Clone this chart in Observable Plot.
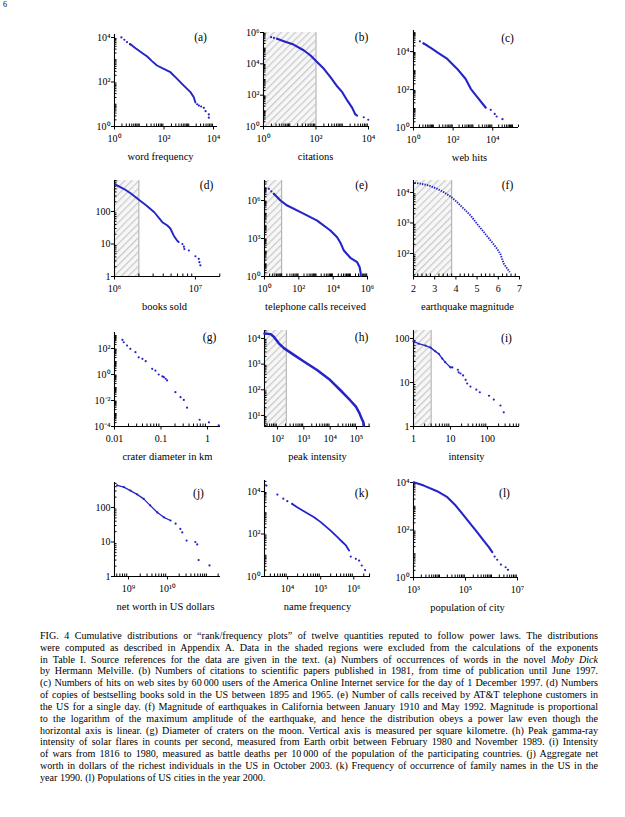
<!DOCTYPE html>
<html><head><meta charset="utf-8">
<script src="https://cdn.jsdelivr.net/npm/d3@7"></script>
<script src="https://cdn.jsdelivr.net/npm/@observablehq/plot@0.6"></script>
<style>
body{margin:0;background:#fff;}
#page{position:relative;width:625px;height:817px;overflow:hidden;font-family:"Liberation Serif",serif;color:#000;background:#fff;}
#pgnum{position:absolute;left:3px;top:0px;font-size:8px;}
#caption{position:absolute;left:40px;top:630px;width:558px;font-size:10.1px;line-height:11.83px;}
#caption div{position:absolute;left:0;white-space:nowrap;}
</style></head><body>
<div id="page"><div id="pgnum">6</div><div id="caption"></div></div>
<script>
// ---------- data ----------
// (a) word frequency (Moby Dick)
const aLine = [[4.2,5000],[5.1,4400],[7.1,3300],[9.5,2600],[14,1900],[21,1400],[32,890],[52,550],[98,390],[182,275],[340,138],[630,69],[1170,35],[1580,21],[1860,12]];
const aDots = [[1.9,10000],[2.5,7900],[3.2,6200],[4.2,5000],[2200,10],[2570,8.7],[3160,7.9],[4070,6.9],[4790,4.9],[6460,3.5],[6460,2.5]];
// (b) citations
const bLine = [[3.3,4.0e5],[5.9,2.8e5],[14,1.7e5],[35,7.1e4],[62,3.4e4],[112,1.26e4],[200,4800],[355,1400],[650,355],[1000,155],[1550,46],[2400,15.5],[3160,5.9],[3700,5]];
const bDots = [[1.95,5.0e5],[2.5,4.5e5],[3.3,4.0e5],[6600,3.9],[9800,2.7]];
// (c) web hits
const cLine = [[3.2,2.7e4],[4.9,2.1e4],[8.9,1.4e4],[16,9100],[51,4100],[162,1230],[430,360],[780,110],[1660,40],[3630,14.5],[4470,11]];
const cDots = [[2.1,3.5e4],[3.2,2.7e4],[7900,8.5],[12600,5.2],[15800,3.8],[31000,2.75]];
// (d) books sold
const dLine = [[1.03e6,676],[1.3e6,500],[1.58e6,363],[2.0e6,229],[2.5e6,151],[3.1e6,95],[3.9e6,47],[4.5e6,37],[4.9e6,30],[5.4e6,18],[5.9e6,13],[6.2e6,11.5]];
const dDots = [[6.9e6,10],[7.2e6,8.3],[7.3e6,7],[8.3e6,6.3],[1.0e7,4.2],[1.1e7,3.5],[1.12e7,2.75],[1.15e7,2.2]];
// (e) telephone calls received
const eLine = [[3.5,3.4e6],[8.5,1.0e6],[21,4.0e5],[126,1.2e5],[1170,2.6e4],[6900,4300],[1.7e4,1260],[2.8e4,400],[4.2e4,112],[1.0e5,30],[2.5e5,13.5],[3.5e5,5.4],[4.0e5,2],[4.0e5,1.1]];
const eDots = [[1.8,8.3e6],[2.5,5.2e6],[3.5,3.4e6]];
// (f) earthquake magnitude
const fLine = [[2.05,2.04e4],[2.33,1.95e4],[2.72,1.70e4],[3.12,1.32e4],[3.43,1.02e4],[3.78,7100],[4.06,4800],[4.37,2950],[4.69,1780],[5.0,930],[5.32,500],[5.63,270],[5.95,141],[6.1,95],[6.26,46],[6.54,24.5]];
// (g) crater diameter
const gDots = [[0.0148,468],[0.0158,302],[0.0186,170],[0.0219,95],[0.0282,52],[0.0331,21],[0.0398,16],[0.0468,10.5],[0.0646,2.75],[0.0759,2.0],[0.0891,1.0],[0.107,0.71],[0.115,0.62],[0.126,0.47],[0.135,0.35],[0.204,0.044],[0.263,0.018],[0.309,0.011],[0.363,0.0028],[0.676,3.3e-4],[1.07,2.1e-4],[1.74,1.2e-4]];
// (h) solar flare peak intensity
const hLine = [[32,1.55e4],[55,1.48e4],[72,1.17e4],[112,6500],[174,4200],[417,2300],[1000,1260],[3160,590],[1e4,240],[2.4e4,98],[5.6e4,40],[9.5e4,22],[1.29e5,12.3],[1.58e5,7.4],[1.82e5,5.5],[1.86e5,4]];
// (i) war intensity
const iLine = [[1.0,87],[1.38,76],[2.1,69],[2.9,62],[3.9,51],[4.8,45],[6.0,35],[7.2,29],[10,22],[11.2,22]];
const iDots = [[1.0,87],[1.38,76],[2.1,69],[2.9,62],[3.9,51],[4.8,45],[6.0,35],[7.2,29],[10,22],[11.2,22],[15.8,19.5],[16.6,17],[18.6,16],[21.9,14.5],[25.7,11.5],[28.2,9.5],[34.7,8.1],[50,6.9],[62,6.0],[110,5.0],[148,4.1],[224,3.0],[275,2.1]];
// (j) net worth
const jLine = [[5.1e8,436],[7.6e8,389],[1.12e9,309],[1.66e9,240],[2.45e9,178],[3.6e9,115],[5.5e9,72],[8.1e9,52],[1.2e10,42]];
const jDots = [[5.1e8,436],[7.6e8,389],[1.12e9,309],[1.66e9,240],[2.45e9,178],[3.6e9,115],[5.5e9,72],[8.1e9,52],[1.2e10,42],[1.62e10,34],[2.14e10,24],[2.4e10,19],[3.1e10,11],[5.2e10,10],[5.8e10,8.5],[6.3e10,3],[1.2e11,2.1]];
// (k) family name frequency
const kLine = [[1.38e4,2600],[1.95e4,1800],[3.1e4,1170],[6.3e4,620],[1.0e5,363],[2.0e5,145],[3.2e5,71],[4.6e5,41],[5.8e5,29],[7.2e5,16.6]];
const kDots = [[2290,1.9e4],[4900,7200],[7400,4600],[9800,3500],[1.38e4,2600],[8.1e5,8.7],[1.15e6,6.8],[1.45e6,5.6],[1.74e6,3.3],[2.2e6,2.0]];
// (l) city population
const lLine = [[1020,1.02e4],[2500,7400],[8100,4300],[2.0e4,2400],[4.2e4,1070],[8.5e4,410],[1.55e5,182],[2.8e5,81],[5.0e5,36],[7.9e5,19],[1.07e6,11.7]];
const lDots = [[1.32e6,7.6],[1.66e6,5.6],[2.3e6,3.5],[3.5e6,2.7],[4.3e6,2.1]];

// shaded (excluded) ranges
const shadeB = [1, 100], shadeD = [1e6, 2e6], shadeE = [1, 10], shadeF = [2, 3.8], shadeH = [32, 215], shadeI = [1, 3], shadeL = [1e3, 4e4];

// axis labels & letters
const letters = ["(a)","(b)","(c)","(d)","(e)","(f)","(g)","(h)","(i)","(j)","(k)","(l)"];
const xLabels = ["word frequency","citations","web hits","books sold","telephone calls received","earthquake magnitude","crater diameter in km","peak intensity","intensity","net worth in US dollars","name frequency","population of city"];

const captionLines = [
"FIG. 4 Cumulative distributions or “rank/frequency plots” of twelve quantities reputed to follow power laws. The distributions",
"were computed as described in Appendix A. Data in the shaded regions were excluded from the calculations of the exponents",
"in Table I. Source references for the data are given in the text. (a) Numbers of occurrences of words in the novel <i>Moby Dick</i>",
"by Hermann Melville. (b) Numbers of citations to scientific papers published in 1981, from time of publication until June 1997.",
"(c) Numbers of hits on web sites by 60&#8201;000 users of the America Online Internet service for the day of 1 December 1997. (d) Numbers",
"of copies of bestselling books sold in the US between 1895 and 1965. (e) Number of calls received by AT&amp;T telephone customers in",
"the US for a single day. (f) Magnitude of earthquakes in California between January 1910 and May 1992. Magnitude is proportional",
"to the logarithm of the maximum amplitude of the earthquake, and hence the distribution obeys a power law even though the",
"horizontal axis is linear. (g) Diameter of craters on the moon. Vertical axis is measured per square kilometre. (h) Peak gamma-ray",
"intensity of solar flares in counts per second, measured from Earth orbit between February 1980 and November 1989. (i) Intensity",
"of wars from 1816 to 1980, measured as battle deaths per 10&#8201;000 of the population of the participating countries. (j) Aggregate net",
"worth in dollars of the richest individuals in the US in October 2003. (k) Frequency of occurrence of family names in the US in the",
"year 1990. (l) Populations of US cities in the year 2000."
];

// ---------- formatting helpers ----------
const SUP = {"-":"⁻","0":"⁰","1":"¹","2":"²","3":"³","4":"⁴","5":"⁵","6":"⁶","7":"⁷","8":"⁸","9":"⁹"};
const pow10 = d => "10" + String(Math.round(Math.log10(d))).split("").map(c => SUP[c]).join("");
const plain = d => String(d);
function logMinors(domain, majors) {
  const [a, b] = domain, out = [];
  for (let e = Math.floor(Math.log10(a)); e <= Math.ceil(Math.log10(b)); e++) {
    for (let m = 1; m <= 9; m++) {
      const v = +(m * Math.pow(10, e)).toPrecision(6);
      if (v >= a * 0.9999 && v <= b * 1.0001 && !majors.some(t => Math.abs(t - v) / v < 1e-6)) out.push(v);
    }
  }
  return out;
}

// ---------- layout of the 12 panels (frame in page px) ----------
const panels = [
 {L:114,T:34,W:103,H:92, xd:[1,1.45e4], yd:[1,1.36e4], xt:[1,100,1e4], yt:[1,100,1e4], xf:pow10, yf:pow10, line:aLine, dots:aDots, lw:1.9, let:[200,37], lab:160},
 {L:263,T:32,W:105,H:94, xd:[1,1e4], yd:[1,1e6], xt:[1,100,1e4], yt:[1,100,1e4,1e6], xf:pow10, yf:pow10, line:bLine, dots:bDots, shade:shadeB, lw:2.1, let:[361,37], lab:315},
 {L:413,T:30,W:105,H:97, xd:[1,2e5], yd:[1,1.3e5], xt:[1,100,1e4], yt:[1,100,1e4], xf:pow10, yf:pow10, line:cLine, dots:cDots, lw:2.1, let:[507,38], lab:469},
 {L:114,T:180,W:106,H:96, xd:[1e6,2.04e7], yd:[1,900], xt:[1e6,1e7], yt:[1,10,100], xf:pow10, yf:plain, line:dLine, dots:dDots, shade:shadeD, lw:1.9, let:[206,185], lab:164},
 {L:264,T:180,W:103,H:96, xd:[1,1e6], yd:[1,3.8e7], xt:[1,100,1e4,1e6], yt:[1,1e3,1e6], xf:pow10, yf:pow10, line:eLine, dots:eDots, shade:shadeE, lw:2.1, let:[361,185], lab:315},
 {L:413,T:180,W:106,H:96, xd:[2,7], yd:[17.6,24700], xt:[2,3,4,5,6,7], yt:[100,1e3,1e4], xf:plain, yf:pow10, line:fLine, dash:true, shade:shadeF, lw:1.9, let:[507,185], lab:467, linear:true},
 {L:114,T:332,W:106,H:94, xd:[0.01,1.9], yd:[1e-4,1700], xt:[0.01,0.1,1], yt:[1e-4,1e-2,1,100], xf:plain, yf:pow10, dots:gDots, let:[209,337], lab:167},
 {L:264,T:330,W:106,H:96, xd:[32,3.4e5], yd:[3.7,2.05e4], xt:[100,1e3,1e4,1e5], yt:[10,100,1e3,1e4], xf:pow10, yf:pow10, line:hLine, shade:shadeH, lw:2.5, let:[361,337], lab:317},
 {L:413,T:330,W:106,H:96, xd:[1,733], yd:[1,152], xt:[1,10,100], yt:[1,10,100], xf:plain, yf:plain, line:iLine, dots:iDots, shade:shadeI, lw:1.3, let:[506,338], lab:466},
 {L:114,T:482,W:106,H:94, xd:[4.37e8,2.3e11], yd:[1,530], xt:[1e9,1e10], yt:[1,10,100], xf:pow10, yf:plain, line:jLine, dots:jDots, lw:1.3, let:[198,493], lab:165},
 {L:264,T:480,W:106,H:96, xd:[2000,3.2e6], yd:[1,3.3e4], xt:[1e4,1e5,1e6], yt:[1,100,1e4], xf:pow10, yf:pow10, line:kLine, dots:kDots, lw:1.8, let:[361,493], lab:317},
 {L:413,T:482,W:104,H:95, xd:[1e3,1e7], yd:[1,1e4], xt:[1e3,1e5,1e7], yt:[1,100,1e4], xf:pow10, yf:pow10, line:lLine, dots:lDots, lw:2.1, let:[504,493], lab:467}
];

const BLUE = "#2424c8";
const page = document.getElementById("page");
const mL = 36, mR = 14, mT = 10, mB = 44;
const X = d => d[0], Y = d => d[1];

panels.forEach((p, i) => {
  const id = "hatch" + i;
  const xMinor = p.linear ? d3.range(2, 7.0001, 0.2).filter(v => Math.abs(v - Math.round(v)) > 1e-6) : logMinors(p.xd, p.xt);
  const yMinor = logMinors(p.yd, p.yt);
  const marks = [];
  if (p.shade) {
    marks.push(Plot.rect([p.shade], {x1: d => d[0], x2: d => d[1], fill: `url(#${id})`}));
    marks.push(Plot.ruleX([p.shade[1]], {stroke: "#a8a8a8", strokeWidth: 1}));
  }
  marks.push(Plot.ruleX([p.xd[0]], {stroke: "#000", strokeWidth: 1.1}));
  marks.push(Plot.ruleY([p.yd[0]], {stroke: "#000", strokeWidth: 1.1}));
  marks.push(Plot.axisX({ticks: p.xt, tickFormat: p.xf, tickSize: 3.5, tickPadding: 5, label: null, fontSize: 10}));
  marks.push(Plot.axisX({ticks: xMinor, tickFormat: () => "", tickSize: -2.5, label: null}));
  marks.push(Plot.axisY({ticks: p.yt, tickFormat: p.yf, tickSize: 3, tickPadding: 1, label: null, fontSize: 10}));
  marks.push(Plot.axisY({ticks: yMinor, tickFormat: () => "", tickSize: -2.5, label: null}));
  if (p.line) {
    marks.push(Plot.line(p.line, {x: X, y: Y, stroke: BLUE, strokeWidth: p.lw, strokeLinecap: p.dash ? "butt" : "round", strokeDasharray: p.dash ? "1.4,1.1" : null}));
  }
  if (p.dots) marks.push(Plot.dot(p.dots, {x: X, y: Y, r: 1.1, fill: BLUE}));
  marks.push(Plot.text([letters[i]], {frameAnchor: "top-left", textAnchor: "middle", lineAnchor: "middle", dx: p.let[0] - p.L, dy: p.let[1] - p.T, fontSize: 11.5}));
  marks.push(Plot.text([xLabels[i]], {frameAnchor: "bottom-left", textAnchor: "middle", lineAnchor: "middle", dx: p.lab - p.L, dy: 30, fontSize: 10.5}));
  const svg = Plot.plot({
    width: p.W + mL + mR, height: p.H + mT + mB,
    marginLeft: mL, marginRight: mR, marginTop: mT, marginBottom: mB,
    x: {type: p.linear ? "linear" : "log", domain: p.xd},
    y: {type: "log", domain: p.yd},
    style: {fontFamily: "'Liberation Serif', serif", fontSize: "10px", background: "transparent", overflow: "visible", color: "#000"},
    marks
  });
  const ns = "http://www.w3.org/2000/svg";
  const defs = document.createElementNS(ns, "defs");
  defs.innerHTML = `<pattern id="${id}" patternUnits="userSpaceOnUse" width="5" height="5" patternTransform="rotate(45)"><rect width="5" height="5" fill="#f7f7f7"/><line x1="0" y1="0" x2="0" y2="5" stroke="#c9c9c9" stroke-width="2.4"/></pattern>`;
  svg.insertBefore(defs, svg.firstChild);
  svg.style.position = "absolute";
  svg.style.left = (p.L - mL) + "px";
  svg.style.top = (p.T - mT) + "px";
  svg.style.maxWidth = "none";
  page.appendChild(svg);
});

// ---------- caption, justified line by line ----------
const cap = document.getElementById("caption");
const CAPW = 558;
captionLines.forEach((t, i) => {
  const d = document.createElement("div");
  d.style.top = (i * 11.83) + "px";
  const s = document.createElement("span");
  s.innerHTML = t;
  d.appendChild(s);
  cap.appendChild(d);
  if (i < captionLines.length - 1) {
    const w = s.getBoundingClientRect().width;
    const n = (s.textContent.match(/ /g) || []).length;
    if (n > 0) d.style.wordSpacing = ((CAPW - w) / n) + "px";
  }
});
</script>
</body></html>
